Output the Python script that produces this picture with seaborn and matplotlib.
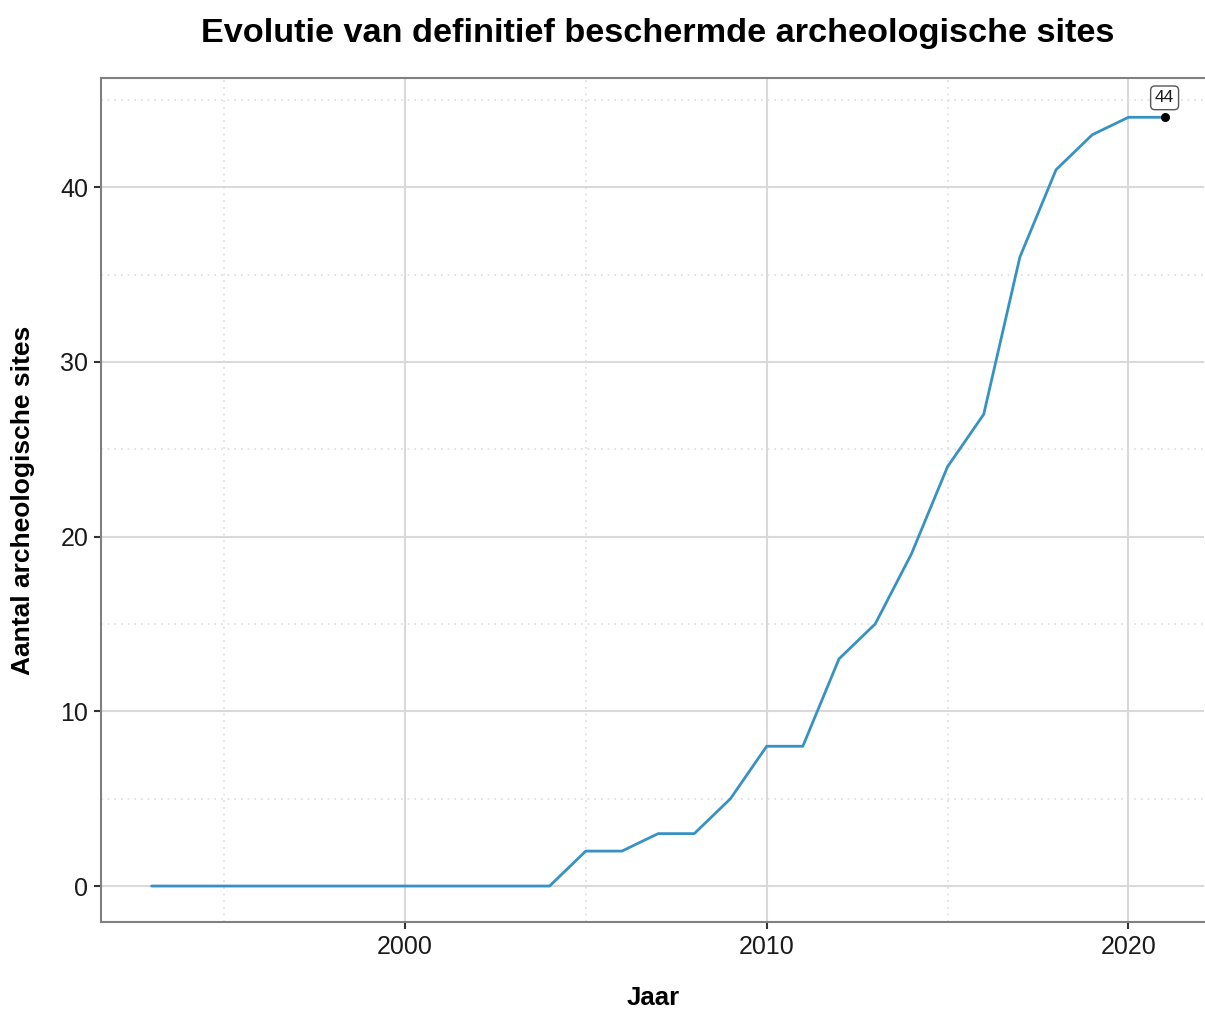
import matplotlib.pyplot as plt
import seaborn as sns
import pandas as pd
from matplotlib.ticker import MultipleLocator

# data
jaren = list(range(1993, 2022))
aantal = [0, 0, 0, 0, 0, 0, 0, 0, 0, 0, 0, 0,
          2, 2, 3, 3, 5, 8, 8, 13, 15, 19, 24, 27, 36, 41, 43, 44, 44]

df = pd.DataFrame({'Jaar': jaren, 'Aantal': aantal})

sns.set_style('white')
plt.rcParams['font.family'] = ['Liberation Sans', 'DejaVu Sans']

fig = plt.figure(figsize=(12.05, 10.10), dpi=100)
ax = fig.add_axes([0.0838, 0.0871, 0.9157, 0.8357])

sns.lineplot(data=df, x='Jaar', y='Aantal', color='#3792c4', lw=2, ax=ax)

# last point + label
last_x, last_y = jaren[-1], aantal[-1]
ax.scatter([last_x], [last_y], color='black', s=30, zorder=5)
ax.annotate(str(last_y), (last_x, last_y), xytext=(0, 14), textcoords='offset points',
            ha='center', va='center', fontsize=12.5, color='#1a1a1a',
            bbox=dict(boxstyle='round,pad=0.25', fc='white', ec='#555555', lw=1))

ax.set_xlim(1991.6, 2022.1)
ax.set_ylim(-2.06, 46.25)
ax.xaxis.set_major_locator(MultipleLocator(10))
ax.xaxis.set_minor_locator(MultipleLocator(5))
ax.yaxis.set_major_locator(MultipleLocator(10))
ax.yaxis.set_minor_locator(MultipleLocator(5))

ax.grid(which='major', color='#d9d9d9', lw=1.5, ls='-')
ax.grid(which='minor', color='#dddddd', lw=1.2, ls=(0, (1, 3)))
ax.set_axisbelow(True)

for s in ['left', 'bottom', 'top']:
    ax.spines[s].set_color('#808080')
    ax.spines[s].set_linewidth(1.5)
ax.spines['right'].set_visible(False)

ax.tick_params(axis='both', which='major', labelsize=18, length=5, width=1.5,
               color='#333333', labelcolor='#1a1a1a', pad=4, bottom=True, left=True)
ax.tick_params(axis='both', which='minor', length=0)

ax.set_xlabel('Jaar', fontsize=18.5, fontweight='bold', labelpad=20, color='black')
ax.set_ylabel('Aantal archeologische sites', fontsize=19, fontweight='bold',
              labelpad=18, color='black')
fig.suptitle('Evolutie van definitief beschermde archeologische sites',
             fontsize=24.7, fontweight='bold', x=0.546, y=0.982, color='black')

fig.savefig('out.png', dpi=100)
